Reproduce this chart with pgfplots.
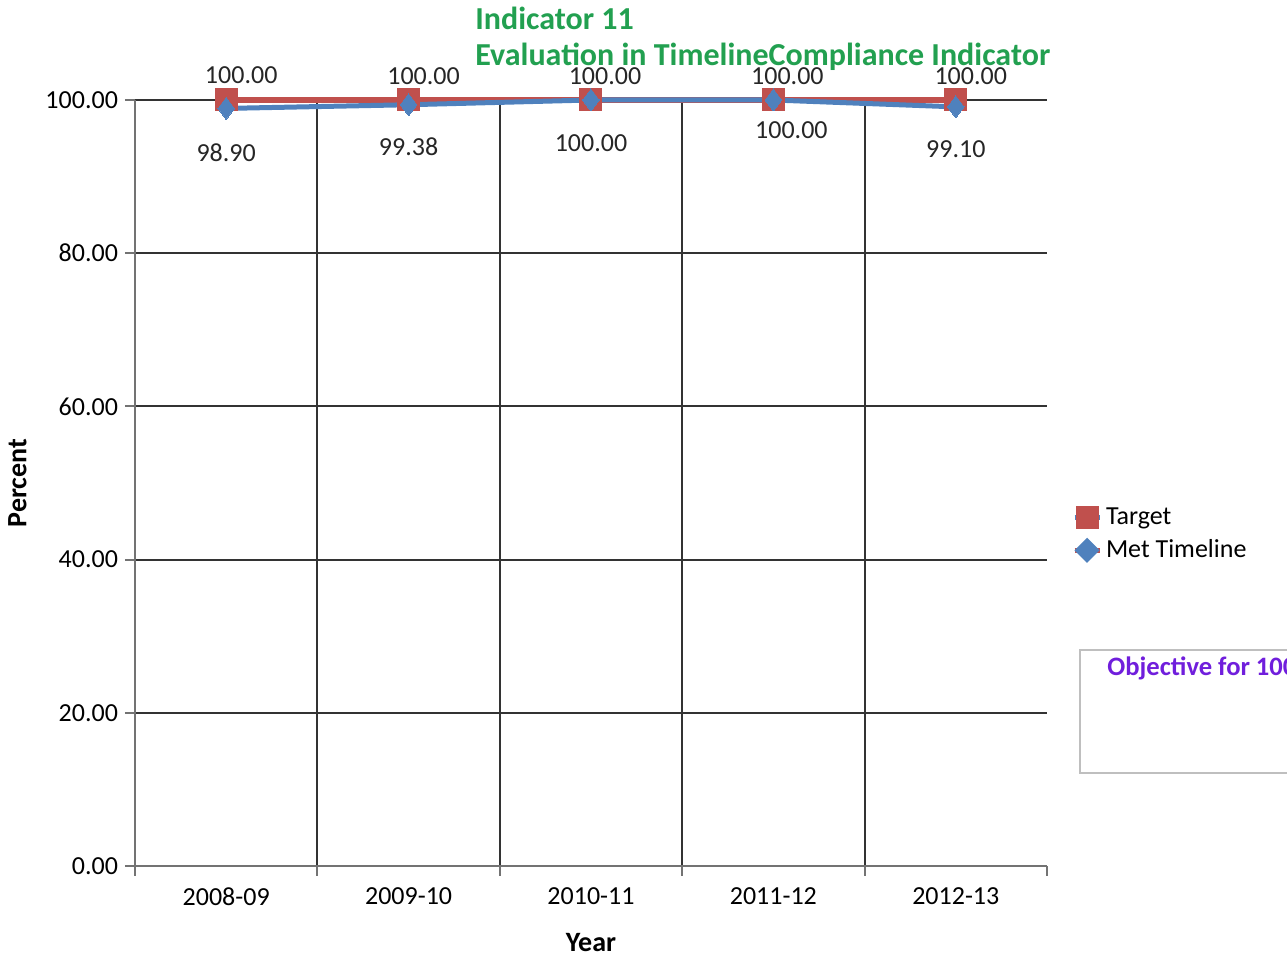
\documentclass[border=0pt]{standalone}
\usepackage{pgfplots}
\pgfplotsset{compat=1.18}
\usepackage{pgfplotstable}
\usepackage{fontspec}
\setmainfont{Carlito}

\definecolor{tgtred}{RGB}{192,80,77}
\definecolor{metblue}{RGB}{79,129,189}
\definecolor{ttlgreen}{RGB}{34,160,80}
\definecolor{objpurple}{RGB}{112,30,220}

% x = category index, dx/dy = label offsets in pt
\pgfplotstableread{
x y dx dy
0 100 7.5 12.5
1 100 7.5 12
2 100 7 12
3 100 7 12
4 100 7.5 12
}\target
\pgfplotstableread{
x y dx dy
0 98.90 0 -22
1 99.38 0 -21
2 100.00 0 -21.5
3 100.00 9 -15
4 99.10 0 -21
}\met

\begin{document}
\begin{tikzpicture}[x=0.5pt,y=0.5pt]
\path[use as bounding box] (0,0) rectangle (1287,959);
\begin{axis}[
  at={(67.5pt,46.5pt)}, anchor=south west,
  scale only axis, width=456pt, height=383pt,
  font=\fontsize{13}{15.6}\selectfont,
  /pgf/number format/assume math mode=true,
  axis x line*=bottom, axis y line*=left,
  axis line style={draw=black!55, line width=1pt},
  xmin=-0.5, xmax=4.5, ymin=0, ymax=100,
  xtick={0,1,2,3,4},
  xticklabels={2008-09,2009-10,2010-11,2011-12,2012-13},
  xticklabel style={yshift=-2.5pt},
  major x tick style={draw=none},
  minor xtick={0.5,1.5,2.5,3.5},
  xminorgrids=true,
  extra x ticks={-0.5,4.5}, extra x tick labels={},
  extra x tick style={grid=none, major x tick style={draw=black!55}},
  ytick={0,20,...,100},
  ymajorgrids=true,
  yticklabel style={/pgf/number format/.cd, fixed, fixed zerofill, precision=2},
  grid style={draw=black!80, line width=1pt},
  minor grid style={draw=black!80, line width=1pt},
  tick align=outside,
  major tick length=5pt, minor tick length=5pt,
  tick style={draw=black!55, line width=1pt},
  xlabel={\bfseries Year}, ylabel={\bfseries Percent},
  every axis x label/.style={at={(axis description cs:0.5,-0.1)}, anchor=center, font=\fontsize{14}{16}\selectfont},
  every axis y label/.style={at={(axis description cs:-0.129,0.5)}, anchor=center, rotate=90, font=\fontsize{14}{16}\selectfont},
  legend style={at={(axis description cs:1.027,0.473)}, anchor=north west, draw=none, fill=none,
    font=\fontsize{13}{15.6}\selectfont, row sep=2pt, inner sep=0pt},
  legend cell align=left,
  nodes near coords={\pgfmathprintnumber[fixed,fixed zerofill,precision=2]{\pgfplotspointmeta}},
  visualization depends on={\thisrow{dx} \as \dx},
  visualization depends on={\thisrow{dy} \as \dy},
  every node near coord/.append style={anchor=center, xshift=\dx pt, yshift=\dy pt, black!85, font=\fontsize{13}{15.6}\selectfont},
  clip=false,
]
\addplot[tgtred, line width=3pt, mark=square*, mark size=5.5pt, mark options={fill=tgtred, draw=tgtred, line width=0pt},
  legend image code/.code={
    \draw[metblue, line width=2.5pt] (0pt,0pt) -- (12.5pt,0pt);
    \fill[tgtred] (2pt,-4.25pt) rectangle (10.5pt,4.25pt);}]
  table[x=x,y=y] {\target};
\addlegendentry{Target}
\addplot[metblue, line width=2.5pt, mark=diamond*, mark size=5.5pt, mark options={fill=metblue, draw=metblue, line width=0pt},
  legend image code/.code={
    \draw[tgtred, line width=2.5pt] (0pt,0pt) -- (12.5pt,0pt);
    \fill[metblue] (6.25pt,-4.5pt) -- (10.75pt,0pt) -- (6.25pt,4.5pt) -- (1.75pt,0pt) -- cycle;}]
  table[x=x,y=y] {\met};
\addlegendentry{Met Timeline}
\end{axis}
\node[anchor=west, inner sep=0pt, text=ttlgreen, font=\fontsize{16}{18}\selectfont\bfseries] at (475,941) {Indicator 11};
\node[anchor=west, inner sep=0pt, text=ttlgreen, font=\fontsize{16}{18}\selectfont\bfseries] at (475,902) {Evaluation in TimelineCompliance Indicator};
\draw[black!25, line width=1pt] (1320,309) -- (1080,309) -- (1080,186) -- (1320,186);
\node[anchor=west, inner sep=0pt, text=objpurple, font=\fontsize{13.3}{15}\selectfont\bfseries] at (1107,291) {Objective for 100\%};
\end{tikzpicture}
\end{document}
